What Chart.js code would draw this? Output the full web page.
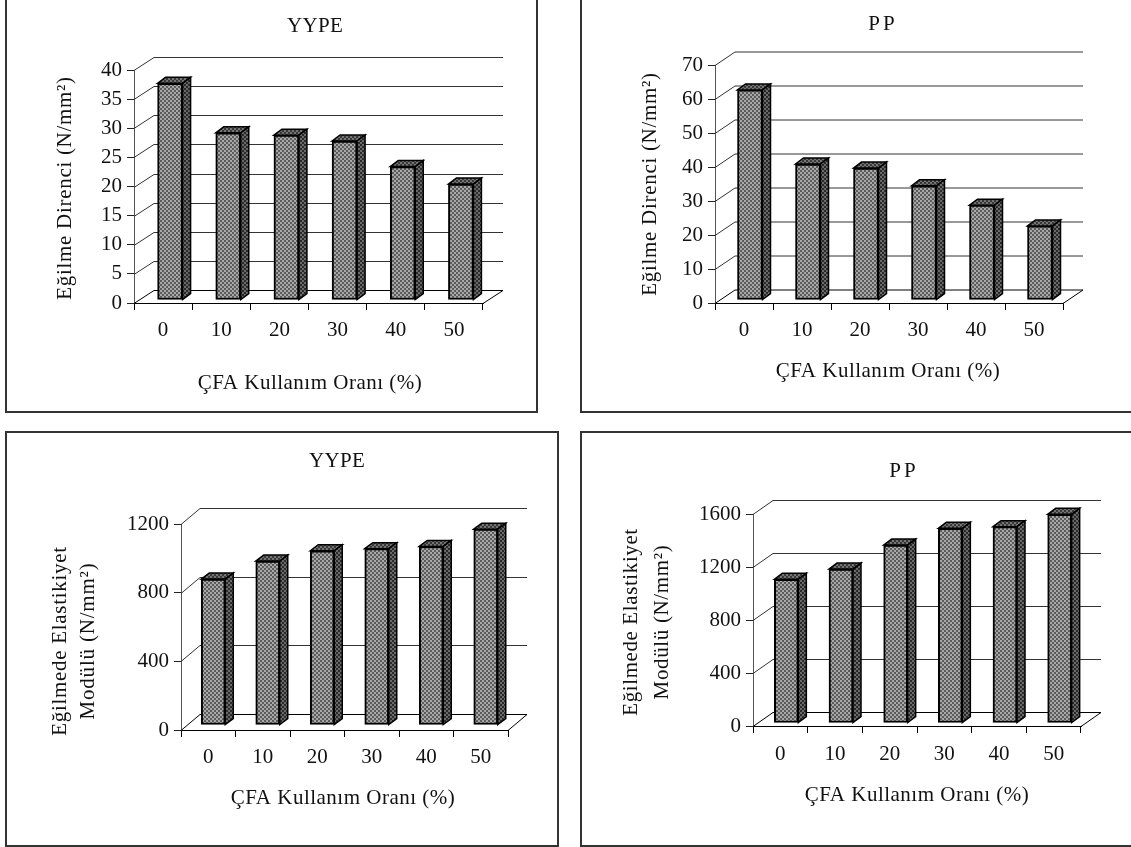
<!DOCTYPE html>
<html>
<head>
<meta charset="utf-8">
<title>Eğilme</title>
<script src="https://cdn.jsdelivr.net/npm/chart.js@4"></script>
<style>
html, body { margin: 0; padding: 0; background: #fff; overflow: hidden; }
body { width: 1131px; height: 847px; position: relative; }
canvas { position: absolute; outline: 2px solid #333; outline-offset: -2px; }
</style>
</head>
<body>
<canvas id="c1"></canvas>
<canvas id="c2"></canvas>
<canvas id="c3"></canvas>
<canvas id="c4"></canvas>
<script>
//DATOS
const categories = ["0", "10", "20", "30", "40", "50"];
const yypeDirenc = [37.2, 28.7, 28.3, 27.3, 22.9, 19.9];
const ppDirenc = [61.8, 40, 38.8, 33.6, 27.9, 21.8];
const yypeModul = [850, 955, 1015, 1027, 1040, 1141];
const ppModul = [1085, 1162, 1343, 1469, 1482, 1575];

const xLabel = "ÇFA Kullanım Oranı (%)";
const direncLabel = "Eğilme Direnci (N/mm²)";
const modulLine1 = "Eğilmede Elastikiyet";
const modulLine2 = "Modülü (N/mm²)";

const FONT = "'Liberation Serif'";
Chart.defaults.font.family = FONT;
Chart.defaults.color = "#111";

//dither fill used on the bars
function checker(dark, light) {
    const p = document.createElement("canvas");
    p.width = 4;
    p.height = 4;
    const c = p.getContext("2d");
    c.fillStyle = light;
    c.fillRect(0, 0, 4, 4);
    c.fillStyle = dark;
    c.fillRect(0, 0, 2, 2);
    c.fillRect(2, 2, 2, 2);
    return c.createPattern(p, "repeat");
}
const frontFill = checker("#5c5c5c", "#a8a8a8");
const sideFill = checker("#2a2a2a", "#6a6a6a");
const topFill = checker("#383838", "#747474");

//back wall, floor and the fake depth of the bars
const depth3d = {
    id: "depth3d",
    beforeDatasetsDraw(chart, args, o) {
        const ctx = chart.ctx;
        const area = chart.chartArea;
        const y = chart.scales.y;
        ctx.save();
        ctx.lineWidth = 1;
        y.ticks.forEach((t, i) => {
            const py = Math.round(y.getPixelForValue(t.value)) + 0.5;
            ctx.strokeStyle = i == 0 ? "#000" : "#333";
            ctx.beginPath();
            ctx.moveTo(area.left, py);
            ctx.lineTo(area.left + o.dx, py - o.dy);
            ctx.lineTo(area.right + o.dx, py - o.dy);
            if (i == 0) ctx.lineTo(area.right, py);
            ctx.stroke();
        });
        ctx.restore();
        // bars stand a little behind the front edge of the floor
        ctx.save();
        ctx.translate(o.barDx, -o.barDy);
    },
    afterDatasetsDraw(chart, args, o) {
        const ctx = chart.ctx;
        chart.getDatasetMeta(0).data.forEach(bar => {
            const b = bar.getProps(["x", "y", "base", "width"], true);
            const l = b.x - b.width / 2;
            const r = b.x + b.width / 2;
            ctx.lineWidth = 1.5;
            ctx.strokeStyle = "#000";
            ctx.fillStyle = topFill;
            ctx.beginPath();
            ctx.moveTo(l, b.y);
            ctx.lineTo(l + o.barDepthX, b.y - o.barDepthY);
            ctx.lineTo(r + o.barDepthX, b.y - o.barDepthY);
            ctx.lineTo(r, b.y);
            ctx.closePath();
            ctx.fill();
            ctx.stroke();
            ctx.fillStyle = sideFill;
            ctx.beginPath();
            ctx.moveTo(r, b.y);
            ctx.lineTo(r + o.barDepthX, b.y - o.barDepthY);
            ctx.lineTo(r + o.barDepthX, b.base - o.barDepthY);
            ctx.lineTo(r, b.base);
            ctx.closePath();
            ctx.fill();
            ctx.stroke();
        });
        ctx.restore();
    }
};

//title and axis captions
const captions = {
    id: "captions",
    afterDraw(chart, args, o) {
        const ctx = chart.ctx;
        o.items.forEach(t => {
            ctx.save();
            ctx.translate(t.x, t.y);
            if (t.vertical) ctx.rotate(-Math.PI / 2);
            ctx.font = t.size + "px " + FONT;
            ctx.letterSpacing = (t.spacing || 0) + "px";
            ctx.fillStyle = "#111";
            ctx.textAlign = "center";
            ctx.textBaseline = "middle";
            ctx.fillText(t.text, 0, 0);
            ctx.restore();
        });
    }
};

function crearGrafica(id, cfg) {
    const el = document.getElementById(id);
    const box = cfg.box;
    el.style.left = box.left + "px";
    el.style.top = box.top + "px";
    el.width = box.right - box.left;
    el.height = box.bottom - box.top;
    const items = cfg.texts.map(t => Object.assign({}, t, { x: t.x - box.left, y: t.y - box.top }));
    return new Chart(el, {
        type: "bar",
        data: {
            labels: categories,
            datasets: [{
                data: cfg.values,
                backgroundColor: frontFill,
                borderColor: "#000",
                borderWidth: 2,
                borderSkipped: false,
                barThickness: cfg.barWidth,
                clip: false
            }]
        },
        options: {
            responsive: false,
            animation: false,
            layout: {
                autoPadding: false,
                padding: { top: cfg.area.top - box.top, right: box.right - cfg.area.right, left: 0, bottom: 0 }
            },
            plugins: {
                legend: { display: false },
                title: { display: false },
                tooltip: { enabled: false },
                depth3d: cfg.depth,
                captions: { items: items }
            },
            scales: {
                x: {
                    grid: { drawOnChartArea: false, tickLength: 7, color: "#000" },
                    border: { color: "#000" },
                    ticks: { font: { size: cfg.tickSize }, padding: cfg.xPad, maxRotation: 0 },
                    afterFit(s) { s.height = box.bottom - cfg.area.bottom; }
                },
                y: {
                    min: 0,
                    max: cfg.max,
                    grid: { drawOnChartArea: false, tickLength: 7, color: "#222" },
                    border: { color: "#555" },
                    ticks: { stepSize: cfg.step, font: { size: cfg.tickSize }, padding: 5, callback: v => String(v) },
                    afterFit(s) { s.width = cfg.area.left - box.left; }
                }
            }
        },
        plugins: [depth3d, captions]
    });
}

crearGrafica("c1", {
    box: { left: 5, top: -5, right: 538, bottom: 413 },
    area: { left: 134, top: 70, right: 483, bottom: 303 },
    values: yypeDirenc, max: 40, step: 5, barWidth: 25, tickSize: 21, xPad: 8,
    depth: { dx: 20, dy: 13, barDx: 7, barDy: 3, barDepthX: 8, barDepthY: 6 },
    texts: [
        { text: "YYPE", x: 315, y: 26, size: 21, spacing: 0.3 },
        { text: xLabel, x: 310, y: 383, size: 21, spacing: 0.5 },
        { text: direncLabel, x: 65, y: 188, size: 21, vertical: true, spacing: 0.7 }
    ]
});

crearGrafica("c2", {
    box: { left: 580, top: -5, right: 1140, bottom: 413 },
    area: { left: 715, top: 65, right: 1063, bottom: 303 },
    values: ppDirenc, max: 70, step: 10, barWidth: 25, tickSize: 21, xPad: 8,
    depth: { dx: 20, dy: 13.5, barDx: 6, barDy: 3, barDepthX: 8, barDepthY: 6 },
    texts: [
        { text: "PP", x: 883, y: 24, size: 21, spacing: 3 },
        { text: xLabel, x: 888, y: 371, size: 21, spacing: 0.5 },
        { text: direncLabel, x: 650, y: 184, size: 21, vertical: true, spacing: 0.7 }
    ]
});

crearGrafica("c3", {
    box: { left: 5, top: 431, right: 559, bottom: 847 },
    area: { left: 181, top: 524, right: 508, bottom: 730 },
    values: yypeModul, max: 1200, step: 400, barWidth: 24, tickSize: 21, xPad: 8,
    depth: { dx: 19, dy: 16, barDx: 5, barDy: 5, barDepthX: 8, barDepthY: 6 },
    texts: [
        { text: "YYPE", x: 337, y: 461, size: 21, spacing: 0.3 },
        { text: xLabel, x: 343, y: 798, size: 21, spacing: 0.5 },
        { text: modulLine1, x: 60, y: 641, size: 21, vertical: true, spacing: 0.7 },
        { text: modulLine2, x: 88, y: 641, size: 21, vertical: true, spacing: 0.8 }
    ]
});

crearGrafica("c4", {
    box: { left: 580, top: 431, right: 1140, bottom: 847 },
    area: { left: 753, top: 514, right: 1081, bottom: 726 },
    values: ppModul, max: 1600, step: 400, barWidth: 24, tickSize: 21, xPad: 9,
    depth: { dx: 20, dy: 14, barDx: 6, barDy: 3, barDepthX: 8, barDepthY: 6 },
    texts: [
        { text: "PP", x: 904, y: 471, size: 21, spacing: 3 },
        { text: xLabel, x: 917, y: 795, size: 21, spacing: 0.5 },
        { text: modulLine1, x: 631, y: 622, size: 21, vertical: true, spacing: 0.6 },
        { text: modulLine2, x: 662, y: 622, size: 21, vertical: true, spacing: 0.65 }
    ]
});
</script>
</body>
</html>
